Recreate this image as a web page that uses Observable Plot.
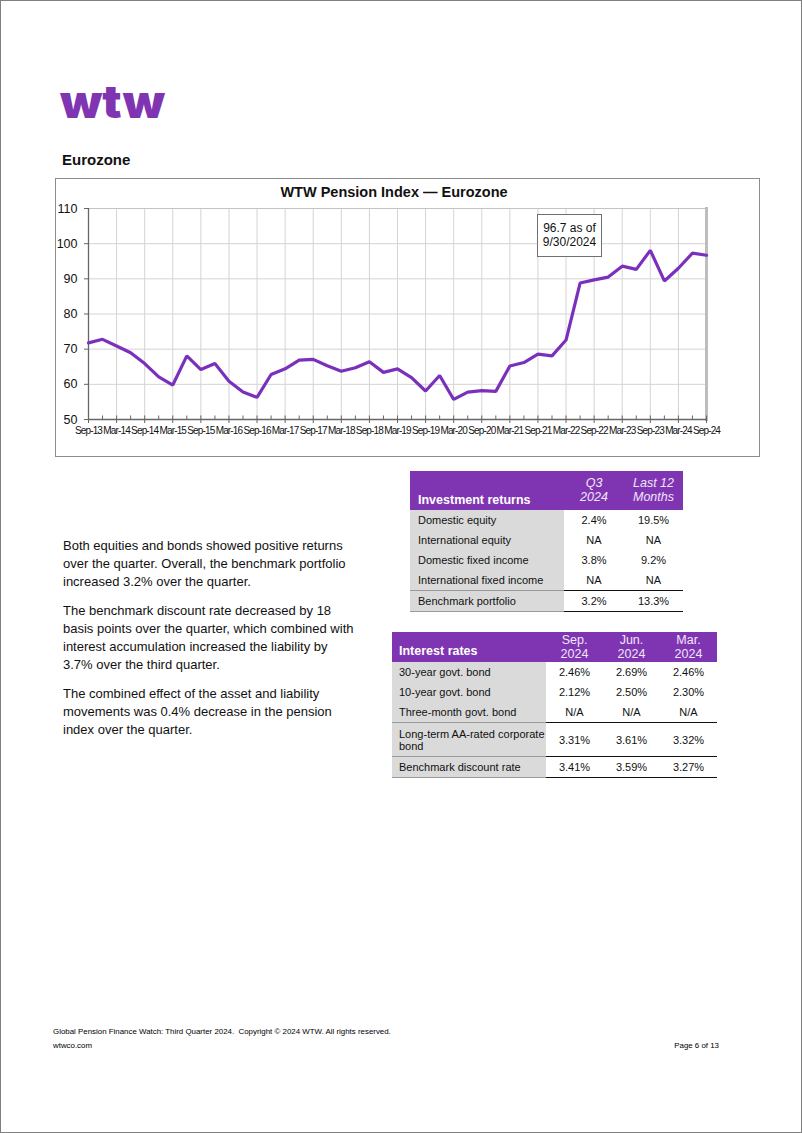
<!DOCTYPE html>
<html><head><meta charset="utf-8">
<script src="https://cdn.jsdelivr.net/npm/d3@7"></script>
<script src="https://cdn.jsdelivr.net/npm/@observablehq/plot@0.6"></script>
<style>
html,body{margin:0;padding:0;background:#fff;}
body{font-family:"Liberation Sans",Arial,sans-serif;color:#111;}
#page{position:relative;width:802px;height:1133px;overflow:hidden;}
#border{position:absolute;left:0;top:0;width:802px;height:1133px;box-sizing:border-box;border:1px solid #808080;pointer-events:none;}
#logo{position:absolute;left:55px;top:65px;overflow:visible;}
#heading{position:absolute;left:62px;top:151px;font-weight:bold;font-size:15px;}
#frame{position:absolute;left:55px;top:178px;width:705px;height:279px;box-sizing:border-box;border:1px solid #8c8c8c;}
#title{position:absolute;left:180px;top:184px;width:428px;text-align:center;font-weight:bold;font-size:14.5px;}
#chart{position:absolute;left:55px;top:200px;}
#chart g[aria-label="x-axis tick label"] text{letter-spacing:-0.85px;}
#note{position:absolute;left:537px;top:214px;width:65px;height:43px;box-sizing:border-box;border:1px solid #707070;background:#fff;font-size:12px;line-height:13.5px;text-align:center;padding-top:7px;}
#body{position:absolute;left:63px;top:537px;width:294px;font-size:13px;line-height:18px;}
#body p{margin:0 0 11px 0;}
table{border-collapse:collapse;position:absolute;font-size:11px;table-layout:fixed;}
td{padding:0;height:20px;}
td.lab{background:#dadada;padding-left:8px;}
td.val{text-align:center;}
th{background:#7f35b2;color:#f1e6f9;font-weight:normal;text-align:center;padding:0;}
th.hl{color:#fff;font-weight:bold;text-align:left;font-size:12.5px;}
#inv{left:410px;top:471px;width:273px;}
#inv th{height:33px;vertical-align:bottom;padding-bottom:6px;font-style:italic;font-size:12.5px;line-height:13.5px;}
#inv th.hl{font-style:normal;padding-left:8px;padding-bottom:3px;height:36px;}
#rates{left:392px;top:632px;width:325px;}
#rates th{height:29px;font-size:12.5px;line-height:13.5px;vertical-align:bottom;padding-bottom:1px;}
#rates th.hl{padding-left:7px;padding-bottom:4px;height:26px;}
#rates td.lab{padding-left:7px;}
tr.sep td{border-top:1.5px solid #111;}
tr.sep td.lab{border-top:1.5px solid #9a9a9a;}
tr.last td{border-bottom:1.5px solid #111;}
tr.last td.lab{border-bottom:1.5px solid #9a9a9a;}
td.two{line-height:12px;height:33px;}
#foot1{position:absolute;left:53px;top:1027px;font-size:7.9px;color:#000;}
#foot2{position:absolute;left:53px;top:1041px;font-size:7.9px;color:#000;}
#foot3{position:absolute;right:83px;top:1041px;font-size:7.9px;color:#000;}
</style></head><body>
<div id="page">
  <svg id="logo" width="200" height="70"><text x="5" y="53" font-family="Inter, Roboto, 'Liberation Sans', sans-serif" font-weight="900" font-size="46" fill="#7f35b2" textLength="105" lengthAdjust="spacingAndGlyphs">wtw</text></svg>
  <div id="heading">Eurozone</div>
  <div id="frame"></div>
  <div id="title">WTW Pension Index — Eurozone</div>
  <div id="chart"></div>
  <div id="note">96.7 as of<br>9/30/2024</div>
  <div id="body">
    <p>Both equities and bonds showed positive returns over the quarter. Overall, the benchmark portfolio increased 3.2% over the quarter.</p>
    <p>The benchmark discount rate decreased by 18 basis points over the quarter, which combined with interest accumulation increased the liability by 3.7% over the third quarter.</p>
    <p>The combined effect of the asset and liability movements was 0.4% decrease in the pension index over the quarter.</p>
  </div>
  <table id="inv"></table>
  <table id="rates"></table>
  <div id="foot1">Global Pension Finance Watch: Third Quarter 2024.&nbsp; Copyright © 2024 WTW. All rights reserved.</div>
  <div id="foot2">wtwco.com</div>
  <div id="foot3">Page 6 of 13</div>
  <div id="border"></div>
</div>
<script>
// ---- chart data ----
const quarters = ["Sep-13","Dec-13","Mar-14","Jun-14","Sep-14","Dec-14","Mar-15","Jun-15","Sep-15","Dec-15",
  "Mar-16","Jun-16","Sep-16","Dec-16","Mar-17","Jun-17","Sep-17","Dec-17","Mar-18","Jun-18",
  "Sep-18","Dec-18","Mar-19","Jun-19","Sep-19","Dec-19","Mar-20","Jun-20","Sep-20","Dec-20",
  "Mar-21","Jun-21","Sep-21","Dec-21","Mar-22","Jun-22","Sep-22","Dec-22","Mar-23","Jun-23",
  "Sep-23","Dec-23","Mar-24","Jun-24","Sep-24"];
const pensionIndex = [71.8,72.8,70.9,69.0,65.9,62.1,59.8,68.1,64.2,65.9,
  60.9,57.8,56.3,62.8,64.4,66.9,67.1,65.3,63.7,64.7,
  66.4,63.4,64.4,61.9,58.1,62.5,55.7,57.8,58.2,58.0,
  65.2,66.2,68.6,68.1,72.6,88.8,89.7,90.5,93.6,92.7,
  98.1,89.4,93.0,97.3,96.7];
const xTickLabels = ["Sep-13","Mar-14","Sep-14","Mar-15","Sep-15","Mar-16","Sep-16","Mar-17","Sep-17","Mar-18",
  "Sep-18","Mar-19","Sep-19","Mar-20","Sep-20","Mar-21","Sep-21","Mar-22","Sep-22","Mar-23","Sep-23","Mar-24","Sep-24"];
const yTicks = [50,60,70,80,90,100,110];

// ---- table data ----
const investHeader = ["Investment returns","Q3<br>2024","Last 12<br>Months"];
const investLabels = ["Domestic equity","International equity","Domestic fixed income","International fixed income","Benchmark portfolio"];
const investQ3 = ["2.4%","NA","3.8%","NA","3.2%"];
const investLast12 = ["19.5%","NA","9.2%","NA","13.3%"];

const ratesHeader = ["Interest rates","Sep.<br>2024","Jun.<br>2024","Mar.<br>2024"];
const ratesLabels = ["30-year govt. bond","10-year govt. bond","Three-month govt. bond","Long-term AA-rated corporate bond","Benchmark discount rate"];
const ratesSep = ["2.46%","2.12%","N/A","3.31%","3.41%"];
const ratesJun = ["2.69%","2.50%","N/A","3.61%","3.59%"];
const ratesMar = ["2.46%","2.30%","N/A","3.32%","3.27%"];

// ---- chart ----
const data = quarters.map((q, i) => ({q, i, v: pensionIndex[i]}));
const tickIdx = xTickLabels.map(t => quarters.indexOf(t));
const allIdx = quarters.map((q, i) => i);

const chart = Plot.plot({
  width: 704, height: 256,
  marginLeft: 33, marginRight: 53, marginTop: 8, marginBottom: 37,
  style: {fontFamily: "'Liberation Sans', Arial, sans-serif", background: "transparent", color: "#111", overflow: "visible"},
  x: {domain: [0, quarters.length - 1], label: null},
  y: {domain: [50, 110], label: null},
  marks: [
    Plot.gridY(yTicks, {stroke: "#d4d4d4", strokeOpacity: 1}),
    Plot.gridX(tickIdx, {stroke: "#d4d4d4", strokeOpacity: 1}),
    Plot.frame({anchor: "top", stroke: "#c4c4c4"}),
    Plot.frame({anchor: "right", stroke: "#bdbdbd", strokeWidth: 3}),
    Plot.axisY(yTicks, {tickSize: 4, tickPadding: 7, fontSize: 12.5, stroke: "#666", label: null}),
    Plot.axisX(tickIdx, {tickFormat: i => quarters[i], tickSize: 4, tickPadding: 3, fontSize: 10, stroke: "#666", label: null}),
    Plot.ruleX(allIdx, {x: d => d, y1: 50, y2: 51, stroke: "#666"}),
    Plot.ruleX([0], {stroke: "#666", strokeWidth: 1.3}),
    Plot.ruleY([50], {stroke: "#666", strokeWidth: 1.3}),
    Plot.line(data, {x: "i", y: "v", stroke: "#7b30bb", strokeWidth: 3.2, strokeLinejoin: "miter"})
  ]
});
document.getElementById("chart").appendChild(chart);

// ---- tables ----
function buildTable(id, header, widths, labels, cols, opts) {
  const t = document.getElementById(id);
  let html = "<colgroup>" + widths.map(w => `<col style="width:${w}px">`).join("") + "</colgroup>";
  html += "<tr>" + header.map((h, k) => `<th class="${k === 0 ? "hl" : ""}">${h}</th>`).join("") + "</tr>";
  labels.forEach((lab, r) => {
    const cls = [];
    if (opts.sep.includes(r)) cls.push("sep");
    if (r === labels.length - 1) cls.push("last");
    const two = opts.two.includes(r) ? " two" : "";
    html += `<tr class="${cls.join(" ")}"><td class="lab${two}">${lab}</td>` +
      cols.map(c => `<td class="val${two}">${c[r]}</td>`).join("") + "</tr>";
  });
  t.innerHTML = html;
}
buildTable("inv", investHeader, [154, 60, 59], investLabels, [investQ3, investLast12], {sep: [4], two: []});
buildTable("rates", ratesHeader, [154, 57, 57, 57], ratesLabels, [ratesSep, ratesJun, ratesMar], {sep: [3, 4], two: [3]});
</script>
</body></html>
